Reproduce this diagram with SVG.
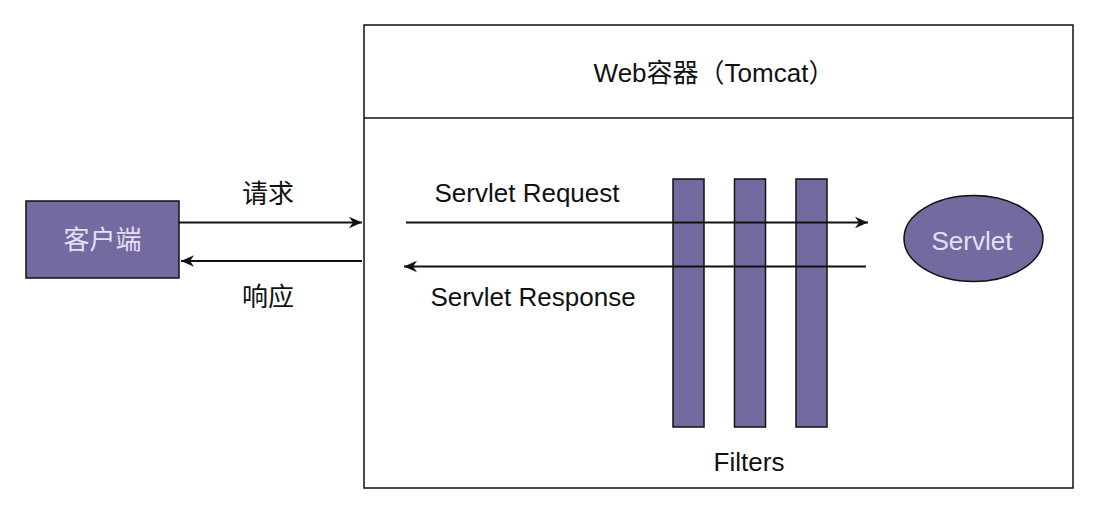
<svg xmlns="http://www.w3.org/2000/svg" width="1100" height="515" viewBox="0 0 1100 515">
<style>
.t{font-family:"Liberation Sans","Noto Sans CJK SC",sans-serif;font-size:26px;fill:#111;text-anchor:middle}
.lt{font-family:"Liberation Sans","Noto Sans CJK SC",sans-serif;font-size:26px;fill:#e6def5;text-anchor:middle}
.box{fill:#736b9f;stroke:#111;stroke-width:1.5}
.ln{stroke:#111;stroke-width:2;fill:none}
</style>
<defs>
<marker id="ah" viewBox="0 0 10 10" refX="10" refY="5" markerWidth="13" markerHeight="13" markerUnits="userSpaceOnUse" orient="auto">
<path d="M0,0.5 L10,5 L0,9.5 L3,5 Z" fill="#111"/>
</marker>
</defs>
<rect width="1100" height="515" fill="#fff"/>
<g id="container">
<rect x="364" y="25" width="709" height="463" fill="#fff" stroke="#111" stroke-width="1.5"/>
<line x1="364" y1="118" x2="1073" y2="118" stroke="#111" stroke-width="1.5"/>
<text class="t" x="714" y="82">Web容器（Tomcat）</text>
</g>
<g id="client">
<rect class="box" x="26" y="201" width="153" height="77"/>
<text class="lt" x="102.5" y="249">客户端</text>
</g>
<g id="filters">
<rect class="box" x="673" y="179" width="31" height="248"/>
<rect class="box" x="734.5" y="179" width="31" height="248"/>
<rect class="box" x="796" y="179" width="31" height="248"/>
<text class="t" x="749" y="471">Filters</text>
</g>
<g id="servlet">
<ellipse class="box" cx="973.5" cy="238.5" rx="69.5" ry="43"/>
<text class="lt" x="972" y="250">Servlet</text>
</g>
<g id="connectors">
<line class="ln" x1="179" y1="222.5" x2="362" y2="222.5" marker-end="url(#ah)"/>
<line class="ln" x1="362" y1="261" x2="181" y2="261" marker-end="url(#ah)"/>
<line class="ln" x1="406" y1="222.5" x2="868" y2="222.5" marker-end="url(#ah)"/>
<line class="ln" x1="866" y1="266.5" x2="404" y2="266.5" marker-end="url(#ah)"/>
</g>
<g id="labels">
<text class="t" x="268" y="203">请求</text>
<text class="t" x="268" y="306">响应</text>
<text class="t" x="527" y="202">Servlet Request</text>
<text class="t" x="533" y="306">Servlet Response</text>
</g>
</svg>
